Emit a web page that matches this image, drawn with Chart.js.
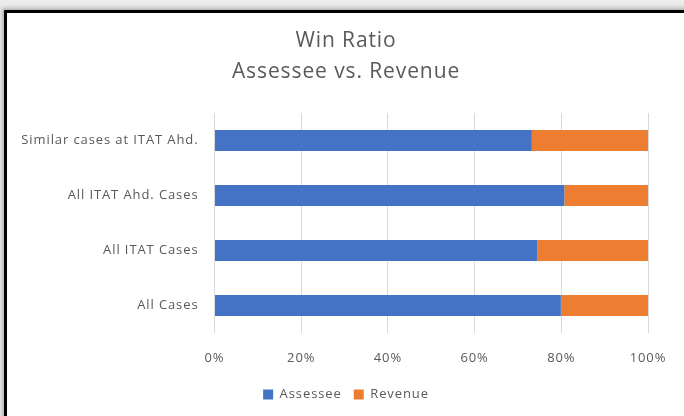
<!DOCTYPE html>
<html>
<head>
<meta charset="utf-8">
<script src="https://cdn.jsdelivr.net/npm/chart.js@4.4.1/dist/chart.umd.min.js"></script>
<style>
  html, body { margin: 0; padding: 0; background: #ffffff; }
  #wrap { position: relative; width: 684px; height: 416px; overflow: hidden; background: #ececec; }
  #frame { position: absolute; left: 4px; top: 10px; width: 700px; height: 430px; background: #ffffff;
           border-left: 3px solid #000; border-top: 3px solid #000; box-shadow: -2px -2px 4px rgba(0,0,0,0.25); }
  canvas { position: absolute; left: 0; top: 0; }
</style>
</head>
<body>
<div id="wrap">
  <div id="frame"></div>
  <canvas id="c" width="684" height="416"></canvas>
</div>
<script>
const categories = ['Similar cases at ITAT Ahd.', 'All ITAT Ahd. Cases', 'All ITAT Cases', 'All Cases'];
const assessee = [73.2, 80.7, 74.5, 79.9];
const revenue = [26.8, 19.3, 25.5, 20.1];
const seriesNames = ['Assessee', 'Revenue'];
const titleLines = ['Win Ratio', 'Assessee vs. Revenue'];

const FONT = '"Open Sans", sans-serif';
const GREY = '#595959';

const spacingPlugin = {
  id: 'letterSpacing',
  beforeUpdate(chart) { if ('letterSpacing' in chart.ctx) chart.ctx.letterSpacing = '0.9px'; },
  beforeLayout(chart) { if ('letterSpacing' in chart.ctx) chart.ctx.letterSpacing = '0.9px'; },
  beforeDraw(chart) { if ('letterSpacing' in chart.ctx) chart.ctx.letterSpacing = '0.9px'; }
};

new Chart(document.getElementById('c'), {
  type: 'bar',
  data: {
    labels: categories,
    datasets: [
      { label: seriesNames[0], data: assessee, backgroundColor: '#4472C4', barPercentage: 0.382, categoryPercentage: 1 },
      { label: seriesNames[1], data: revenue, backgroundColor: '#ED7D31', barPercentage: 0.382, categoryPercentage: 1 }
    ]
  },
  plugins: [spacingPlugin],
  options: {
    indexAxis: 'y',
    responsive: false,
    animation: false,
    layout: { padding: { left: 8, right: 0, top: 0, bottom: 5 } },
    plugins: {
      title: {
        display: true,
        text: titleLines,
        color: GREY,
        font: { family: FONT, size: 21, weight: 'normal', lineHeight: 1.476 },
        padding: { top: 26, bottom: 25 }
      },
      legend: {
        position: 'bottom',
        labels: {
          color: GREY,
          font: { family: FONT, size: 13 },
          boxWidth: 10,
          boxHeight: 10,
          padding: 12
        }
      },
      tooltip: { enabled: false }
    },
    scales: {
      x: {
        stacked: true,
        min: 0,
        max: 100,
        afterFit: s => { s.height = 43; },
        ticks: {
          stepSize: 20,
          color: GREY,
          font: { family: FONT, size: 13 },
          padding: 17,
          callback: v => v + '%'
        },
        grid: { color: '#d9d9d9', lineWidth: 1, drawTicks: false },
        border: { display: false }
      },
      y: {
        stacked: true,
        afterFit: s => { s.width = 206.5; },
        ticks: {
          color: GREY,
          font: { family: FONT, size: 13 },
          padding: 16
        },
        grid: { display: false, drawTicks: false },
        border: { display: false }
      },
      yRight: {
        position: 'right',
        type: 'category',
        afterFit: s => { s.width = 36; },
        ticks: { display: false },
        grid: { display: false, drawTicks: false },
        border: { display: false }
      }
    }
  }
});
</script>
</body>
</html>
